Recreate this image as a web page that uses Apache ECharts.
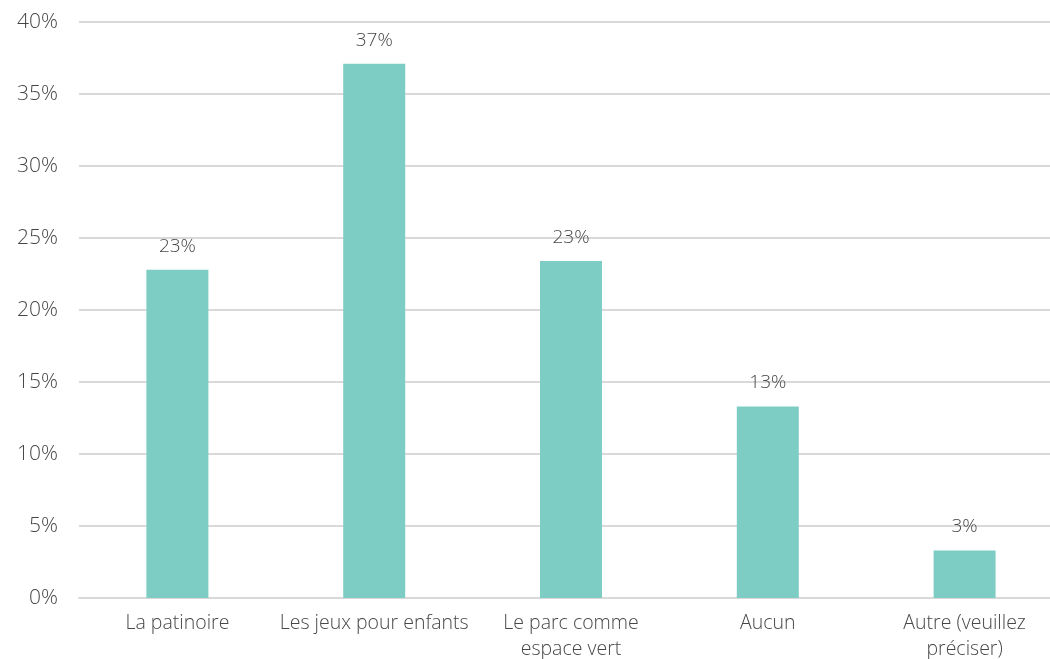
<!DOCTYPE html>
<html>
<head>
<meta charset="utf-8">
<script src="https://cdn.jsdelivr.net/npm/echarts@6/dist/echarts.min.js"></script>
<style>
html,body{margin:0;padding:0;background:#fff;}
#chart{width:1050px;height:659px;}
</style>
</head>
<body>
<div id="chart"></div>
<script>
const categories = ["La patinoire", "Les jeux pour enfants", "Le parc comme\nespace vert", "Aucun", "Autre (veuillez\npréciser)"];
const values = [22.8, 37.1, 23.4, 13.3, 3.3];
const yTicks = [0, 5, 10, 15, 20, 25, 30, 35, 40];

const FONT = "'Open Sans', Lato, sans-serif";
const TEXT = '#474747';
const chart = echarts.init(document.getElementById('chart'));
chart.setOption({
  animation: false,
  backgroundColor: '#ffffff',
  grid: { left: 79, right: -13, top: 22, bottom: 61, containLabel: false, outerBoundsMode: 'none' },
  xAxis: {
    type: 'category',
    data: categories,
    axisLine: { show: true, lineStyle: { color: '#d9d9d9', width: 2 } },
    axisTick: { show: false },
    axisLabel: { color: TEXT, fontFamily: FONT, fontWeight: 300, fontSize: 19.5, margin: 12, lineHeight: 26, interval: 0 }
  },
  yAxis: {
    type: 'value',
    min: yTicks[0],
    max: yTicks[yTicks.length - 1],
    interval: 5,
    axisLine: { show: false },
    axisTick: { show: false },
    splitLine: { lineStyle: { color: '#d9d9d9', width: 2 } },
    axisLabel: { color: TEXT, fontFamily: FONT, fontWeight: 300, fontSize: 21, margin: 21, formatter: v => v + '%' }
  },
  series: [{
    type: 'bar',
    data: values,
    barWidth: 62,
    itemStyle: { color: '#7ecdc4' },
    label: {
      show: true,
      position: 'top',
      distance: 14,
      color: TEXT,
      fontFamily: FONT,
      fontWeight: 300,
      fontSize: 19,
      formatter: p => Math.round(p.value) + '%'
    }
  }]
});
</script>
</body>
</html>
